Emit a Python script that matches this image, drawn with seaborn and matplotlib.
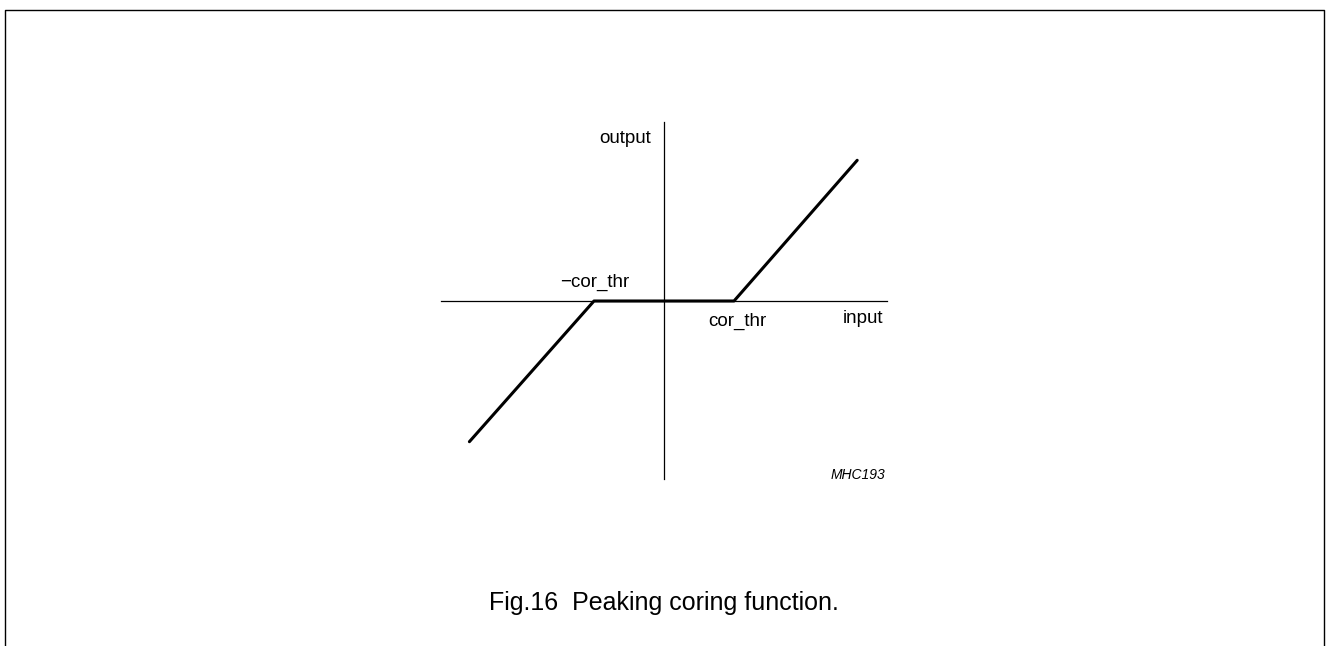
import numpy as np
import pandas as pd
import seaborn as sns
import matplotlib.pyplot as plt
from matplotlib.lines import Line2D

sns.set_style("white")
plt.rcParams['font.family'] = ['Liberation Sans', 'DejaVu Sans']
plt.rcParams['text.color'] = 'black'

# 转换特性曲线：输入/输出（单位取 cor_thr = 1）
input_vals = [-2.78, -1.0, 1.0, 2.76]
output_vals = [-2.01, 0.0, 0.0, 2.01]
curve = pd.DataFrame({'input': input_vals, 'output': output_vals})

# 坐标轴范围（线段长度）
x_axis_span = (-3.19, 3.19)
y_axis_span = (-2.54, 2.56)

W, H = 1326, 646
fig = plt.figure(figsize=(W / 100, H / 100), dpi=100)
ax = fig.add_axes([0, 0, 1, 1])
ax.set_facecolor('none')

# 原点在 (664, 301) 像素处，每单位 70 像素
ax.set_xlim(-664 / 70, (W - 664) / 70)
ax.set_ylim((301 - H) / 70, 301 / 70)

sns.lineplot(data=curve, x='input', y='output', sort=False, estimator=None,
             color='black', linewidth=2.2, ax=ax, zorder=3)

# 用 spine 当作坐标轴
for s in ['top', 'right']:
    ax.spines[s].set_visible(False)
ax.spines['left'].set_position(('data', 0))
ax.spines['bottom'].set_position(('data', 0))
ax.spines['left'].set_bounds(*y_axis_span)
ax.spines['bottom'].set_bounds(*x_axis_span)
for s in ['left', 'bottom']:
    ax.spines[s].set_linewidth(0.9)
    ax.spines[s].set_color('black')
ax.set_xticks([])
ax.set_yticks([])
ax.set_xlabel('')
ax.set_ylabel('')

fs = 13.5
ax.text(-0.19, 2.257, 'output', ha='right', va='baseline', fontsize=fs)
ax.text(-0.5, 0.2, '\u2212cor_thr', ha='right', va='baseline', fontsize=fs)
ax.text(0.63, -0.35, 'cor_thr', ha='left', va='baseline', fontsize=fs)
ax.text(3.13, -0.31, 'input', ha='right', va='baseline', fontsize=fs)
ax.text(3.157, -2.543, 'MHC193', ha='right', va='baseline', fontsize=10, style='italic')

# 图题
fig.text(664 / W, 1 - 610 / H, 'Fig.16  Peaking coring function.',
         ha='center', va='baseline', fontsize=18)

# 外框（底边开口）
bx = [4.5 / W, 4.5 / W, 1324 / W, 1324 / W]
by = [0, 1 - 9.8 / H, 1 - 9.8 / H, 0]
fig.add_artist(Line2D(bx, by, transform=fig.transFigure, color='black', linewidth=1.0))

fig.savefig('out.png', dpi=100)
